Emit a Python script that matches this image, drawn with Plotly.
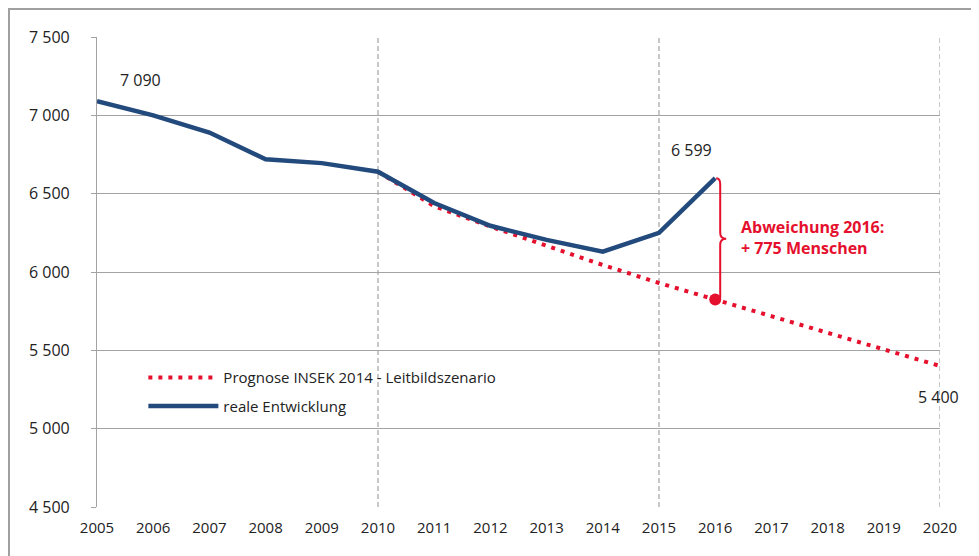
import plotly.graph_objects as go

years_real = [2005, 2006, 2007, 2008, 2009, 2010, 2011, 2012, 2013, 2014, 2015, 2016]
real_values = [7090, 7000, 6890, 6720, 6695, 6640, 6440, 6295, 6205, 6130, 6250, 6599]

years_prog = [2010, 2011, 2012, 2013, 2014, 2015, 2016, 2017, 2018, 2019, 2020]
prog_values = [6640, 6420, 6290, 6165, 6045, 5930, 5824, 5715, 5610, 5505, 5400]

x_ticks = list(range(2005, 2021))
y_ticks = [4500, 5000, 5500, 6000, 6500, 7000, 7500]
dashed_grid_years = [2010, 2015, 2020]

series_names = ["Prognose INSEK 2014 - Leitbildszenario", "reale Entwicklung"]
deviation_year = 2016
deviation_text = "Abweichung 2016:<br>+ 775 Menschen"

BLUE = "#234A7C"
RED = "#E5102D"
GRID = "#A3A3A3"
FONT = "Open Sans"

# the page body has an 8px default margin, so the figure is sized to fit
W, H = 971, 548
ML, MR, MT, MB = 89, 39, 29, 49
PW, PH = W - ML - MR, H - MT - MB

fig = go.Figure()
fig.add_trace(go.Scatter(
    x=years_prog, y=prog_values, mode="lines", name=series_names[0],
    legendgroup="prog",
    line=dict(color=RED, width=4, dash="4px,6px"),
))
fig.add_trace(go.Scatter(
    x=years_real, y=real_values, mode="lines", name=series_names[1],
    legendgroup="real",
    line=dict(color=BLUE, width=4.5),
))

# deviation point
real_dev = real_values[years_real.index(deviation_year)]
prog_dev = prog_values[years_prog.index(deviation_year)]
fig.add_trace(go.Scatter(
    x=[deviation_year], y=[prog_dev], mode="markers", showlegend=False,
    marker=dict(color=RED, size=12), hoverinfo="skip",
))

# curly brace (path in data units)
px_x = 15 / PW          # years per pixel
px_y = 3000 / PH        # values per pixel
bx = deviation_year + 5 * px_x
tip = deviation_year + 11 * px_x
mid = (real_dev + prog_dev) / 2
d = 6 * px_y
path = (
    f"M {deviation_year + 1*px_x},{real_dev} "
    f"Q {bx},{real_dev} {bx},{real_dev - d} "
    f"L {bx},{mid + d} "
    f"Q {bx},{mid} {tip},{mid} "
    f"Q {bx},{mid} {bx},{mid - d} "
    f"L {bx},{prog_dev + 2*px_y} "
    f"Q {bx},{prog_dev} {deviation_year},{prog_dev}"
)
shapes = [dict(type="path", xref="x", yref="y", path=path,
               line=dict(color=RED, width=2))]

for yr in dashed_grid_years:
    shapes.append(dict(type="line", xref="x", yref="paper", x0=yr, x1=yr, y0=0, y1=1,
                       line=dict(color=GRID, width=1.2, dash="5px,3px"), layer="below"))

# outer chart border
shapes.append(dict(type="rect", xref="paper", yref="paper",
                   x0=(1 - ML) / PW, x1=1.2, y0=-0.3, y1=(PH + MT - 1) / PH,
                   line=dict(color="#A0A0A0", width=2)))

def fmt(v):
    return f"{v:,}".replace(",", " ")

annotations = [
    dict(x=years_real[0], y=real_values[0], text=fmt(real_values[0]),
         showarrow=False, xshift=43, yshift=21, font=dict(size=16, color="#222")),
    dict(x=deviation_year, y=real_dev, text=fmt(real_dev),
         showarrow=False, xshift=-24, yshift=28, font=dict(size=16, color="#222")),
    dict(x=years_prog[-1], y=prog_values[-1], text=fmt(prog_values[-1]),
         showarrow=False, xshift=-2, yshift=-31, font=dict(size=16, color="#222")),
    dict(x=deviation_year, y=mid, text=f"<b>{deviation_text}</b>", showarrow=False,
         xanchor="left", align="left", xshift=24, yshift=1,
         font=dict(size=16, color=RED)),
]

fig.update_layout(
    width=W, height=H,
    margin=dict(l=ML, r=MR, t=MT, b=MB, autoexpand=False),
    paper_bgcolor="white", plot_bgcolor="white",
    separators=", ",
    font=dict(family=FONT, size=16, color="#222"),
    showlegend=True,
    legend=dict(x=0.055, y=0.31, xanchor="left", yanchor="top",
                bgcolor="rgba(0,0,0,0)", font=dict(size=15, color="#222"),
                itemwidth=70, tracegroupgap=6),
    xaxis=dict(range=[2005, 2020], tickvals=x_ticks, showgrid=False, zeroline=False,
               showline=False, ticks="", tickfont=dict(size=15), ticklabelstandoff=10,
               fixedrange=True),
    yaxis=dict(range=[4500, 7500], tickvals=y_ticks, tickformat=",d",
               showgrid=True, gridcolor=GRID, gridwidth=1.2, zeroline=False,
               showline=True, linecolor=GRID, linewidth=1.2,
               ticks="outside", ticklen=5, tickcolor=GRID, ticklabelstandoff=18,
               tickfont=dict(size=16)),
    shapes=shapes,
    annotations=annotations,
)

fig.write_html("out.html")
